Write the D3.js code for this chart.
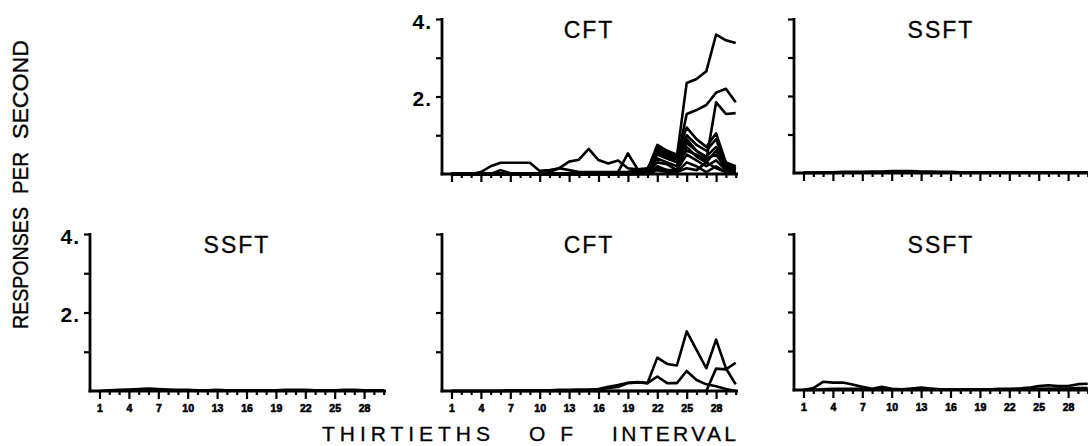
<!DOCTYPE html>
<html><head><meta charset="utf-8">
<script src="https://cdn.jsdelivr.net/npm/d3@7"></script>
<style>
html,body{margin:0;padding:0;background:#fff;}
svg{display:block;}
text{font-family:"Liberation Sans",Arial,sans-serif;fill:#000;}
</style></head>
<body><svg id="c" width="1088" height="446"></svg>
<script>
// ---------- data ----------
const intervals = d3.range(1, 31);
const majorTicks = [1, 4, 7, 10, 13, 16, 19, 22, 25, 28];
const yTicks = [1, 2, 3, 4];
const yTickLabels = {4: "4.", 2: "2."};
const titles = ["CFT", "SSFT", "SSFT", "CFT", "SSFT"];
const yTitleWords = ["RESPONSES", "PER", "SECOND"];
const xTitleWords = ["THIRTIETHS", "OF", "INTERVAL"];

const topCFT = [
  [0,0,0,0,0,0,0,0,0,0,0,0,0,0,0,0,0.02,0.05,0.05,0.08,0.1,0.7,0.55,0.45,2.35,2.45,2.65,3.6,3.45,3.38],
  [0,0,0,0,0,0,0,0,0,0,0,0,0,0,0,0,0,0,0.05,0.1,0.12,0.6,0.45,0.35,1.55,1.65,1.78,2.1,2.2,1.85],
  [0,0,0,0,0,0,0,0,0,0,0,0,0,0,0,0,0,0,0,0.05,0.1,0.5,0.4,0.3,0.6,0.5,0.35,1.85,1.55,1.57],
  [0,0,0,0.05,0.2,0.29,0.29,0.29,0.29,0.08,0.1,0.15,0.32,0.37,0.65,0.36,0.27,0.35,0.15,0.12,0.15,0.55,0.4,0.35,0.8,0.6,0.45,0.7,0.3,0.2],
  [0.02,0,0,0,0,0.1,0.02,0,0,0,0.05,0.15,0.1,0.05,0.05,0.05,0.05,0.05,0.53,0.12,0.1,0.75,0.6,0.5,1.2,0.9,0.7,1.05,0.3,0.15],
  [0,0,0,0,0,0,0,0,0,0,0,0,0,0,0,0,0,0,0,0.05,0.1,0.65,0.5,0.4,1.0,0.75,0.6,0.9,0.2,0.1],
  [0,0,0,0,0,0,0,0,0,0,0,0,0,0,0,0,0,0,0,0,0.08,0.4,0.3,0.2,0.9,0.6,0.4,0.5,0.15,0.05],
  [0,0,0,0,0,0,0,0,0,0,0,0,0,0,0,0,0,0,0,0,0.05,0.3,0.25,0.1,0.5,0.35,0.2,0.35,0.1,0.05],
  [0,0,0,0,0,0,0,0,0,0,0,0,0,0,0,0,0,0,0,0,0,0.2,0.1,0.05,0.3,0.2,0.05,0.2,0.05,0.02],
  [0,0,0,0,0,0,0,0,0,0,0,0,0,0,0,0,0,0,0,0,0,0.1,0.05,0.05,0.15,0.1,0.3,0.15,0.05,0],
  [0,0,0,0,0,0,0,0,0,0,0,0,0,0,0,0,0,0,0,0,0.02,0.15,0.1,0.1,0.7,0.45,0.3,0.6,0.25,0.12]
];
const topSSFT = [
  [0.01,0.01,0.02,0.02,0.03,0.03,0.03,0.04,0.04,0.05,0.05,0.05,0.04,0.04,0.03,0.03,0.02,0.02,0.02,0.02,0.02,0.02,0.02,0.02,0.02,0.02,0.02,0.02,0.02,0.02],
  [0,0,0.01,0.01,0.01,0.01,0.02,0.02,0.02,0.02,0.02,0.02,0.02,0.01,0.01,0.01,0.01,0.01,0.01,0.01,0.01,0.01,0.01,0.01,0.01,0.01,0.01,0.01,0.01,0.01]
];
const botLeftSSFT = [
  [0,0.02,0.03,0.04,0.05,0.06,0.05,0.04,0.03,0.03,0.02,0.02,0.03,0.02,0.02,0.02,0.02,0.02,0.02,0.03,0.03,0.03,0.02,0.02,0.02,0.03,0.03,0.02,0.02,0.02]
];
const botCFT = [
  [0,0,0,0,0,0,0.02,0.02,0.02,0.02,0.02,0.03,0.03,0.04,0.04,0.05,0.11,0.15,0.21,0.23,0.2,0.85,0.69,0.65,1.52,1.05,0.58,1.31,0.58,0.17],
  [0,0,0,0,0,0,0.01,0.01,0.01,0.01,0.01,0.01,0.01,0.01,0.02,0.03,0.08,0.1,0.2,0.22,0.2,0.37,0.2,0.2,0.51,0.28,0.17,0.12,0.05,0],
  [0,0,0,0,0,0,0,0,0,0,0,0,0,0,0,0,0,0,0,0,0,0,0,0,0,0,0,0.57,0.55,0.72]
];
const botRightSSFT = [
  [0,0.05,0.21,0.19,0.19,0.14,0.08,0.03,0.08,0.03,0.02,0.04,0.06,0.04,0.02,0.01,0.01,0.02,0.02,0.02,0.03,0.03,0.04,0.06,0.1,0.12,0.1,0.1,0.15,0.16],
  [0,0,0.02,0.03,0.03,0.03,0.03,0.02,0.01,0.01,0.01,0.01,0.01,0.01,0.01,0.01,0.01,0.01,0.01,0.01,0.02,0.02,0.02,0.02,0.03,0.04,0.04,0.04,0.05,0.05]
];

// ---------- layout ----------
const panels = [
  {series: topCFT,       title: titles[0], ax: 442, top: 19,  base: 174, yLab: true,  xLab: false},
  {series: topSSFT,      title: titles[1], ax: 794, top: 19,  base: 173, yLab: false, xLab: false},
  {series: botLeftSSFT,  title: titles[2], ax: 90,  top: 234, base: 391, yLab: true,  xLab: true},
  {series: botCFT,       title: titles[3], ax: 442, top: 234, base: 391, yLab: false, xLab: true},
  {series: botRightSSFT, title: titles[4], ax: 794, top: 234, base: 390, yLab: false, xLab: true}
];

const svg = d3.select("#c");

panels.forEach(p => {
  const g = svg.append("g");
  const x = d3.scaleLinear().domain([1, 30]).range([p.ax + 9.5, p.ax + 9.5 + 29 * 9.8]);
  const y = d3.scaleLinear().domain([0, 4]).range([p.base, p.top]);
  const xEnd = p.ax + 296;

  const line = d3.line().x((d, i) => x(intervals[i])).y(d => y(d));
  g.selectAll("path.s").data(p.series).join("path")
    .attr("class", "s")
    .attr("d", line)
    .attr("fill", "none").attr("stroke", "#000")
    .attr("stroke-width", 2.6).attr("stroke-linejoin", "round");

  const ya = d3.axisLeft(y).tickValues(yTicks).tickSize(6).tickSizeOuter(0).tickFormat("");
  const yg = g.append("g").attr("transform", `translate(${p.ax},0)`).call(ya);
  yg.select(".domain").remove();
  yg.selectAll(".tick line").attr("stroke", "#000").attr("stroke-width", 2.2);
  g.append("line").attr("x1", p.ax).attr("x2", p.ax).attr("y1", y(4) - 1).attr("y2", y(0) + 1.3)
    .attr("stroke", "#000").attr("stroke-width", 2.8);

  if (p.yLab) {
    yg.selectAll(".tick").filter(d => yTickLabels[d]).append("text")
      .attr("x", -10).attr("y", 9)
      .attr("text-anchor", "end")
      .style("font-size", "21px").style("font-weight", "bold").style("letter-spacing", "1px")
      .attr("fill", "#000")
      .text(d => yTickLabels[d]);
  }

  const xaMinor = d3.axisBottom(x).tickValues(intervals.filter(v => !majorTicks.includes(v)))
    .tickSize(4).tickSizeOuter(0).tickFormat("");
  const xg1 = g.append("g").attr("transform", `translate(0,${p.base})`).call(xaMinor);
  xg1.select(".domain").remove();
  xg1.selectAll(".tick line").attr("stroke", "#000").attr("stroke-width", 2.2);

  const xaMajor = d3.axisBottom(x).tickValues(majorTicks)
    .tickSize(8).tickSizeOuter(0).tickPadding(6).tickFormat(p.xLab ? d3.format("d") : "");
  const xg2 = g.append("g").attr("transform", `translate(0,${p.base})`).call(xaMajor);
  xg2.select(".domain").remove();
  xg2.selectAll(".tick line").attr("stroke", "#000").attr("stroke-width", 2.2);
  xg2.selectAll(".tick text").attr("fill", "#000").attr("stroke", "#000").attr("stroke-width", 0.6)
    .style("font-size", "10.5px").style("font-weight", "bold")
    .style("font-family", "'Liberation Sans', Arial, sans-serif");

  g.append("line").attr("x1", p.ax - 1.4).attr("x2", xEnd).attr("y1", p.base).attr("y2", p.base)
    .attr("stroke", "#000").attr("stroke-width", 2.8);

  g.append("text").attr("x", p.ax + 147).attr("y", p.top + 19)
    .attr("text-anchor", "middle")
    .attr("stroke", "#000").attr("stroke-width", 0.3)
    .style("font-size", "23px").style("letter-spacing", "2px")
    .text(p.title);
});

// axis titles (word placement)
const yWordPos = [{b: 329, len: 122}, {b: 194, len: 42}, {b: 139, len: 99}];
svg.selectAll("text.yw").data(yTitleWords).join("text")
  .attr("class", "yw")
  .attr("transform", (d, i) => `translate(28,${yWordPos[i].b}) rotate(-90)`)
  .attr("textLength", (d, i) => yWordPos[i].len).attr("lengthAdjust", "spacingAndGlyphs")
  .attr("stroke", "#000").attr("stroke-width", 0.35)
  .style("font-size", "22px")
  .text(d => d);

const xWordPos = [{x0: 322, len: 168}, {x0: 529, len: 44}, {x0: 612, len: 124}];
svg.selectAll("text.xw").data(xTitleWords).join("text")
  .attr("class", "xw")
  .attr("x", (d, i) => xWordPos[i].x0).attr("y", 441)
  .attr("textLength", (d, i) => xWordPos[i].len).attr("lengthAdjust", "spacing")
  .attr("stroke", "#000").attr("stroke-width", 0.3)
  .style("font-size", "21px")
  .text(d => d);
</script></body></html>
